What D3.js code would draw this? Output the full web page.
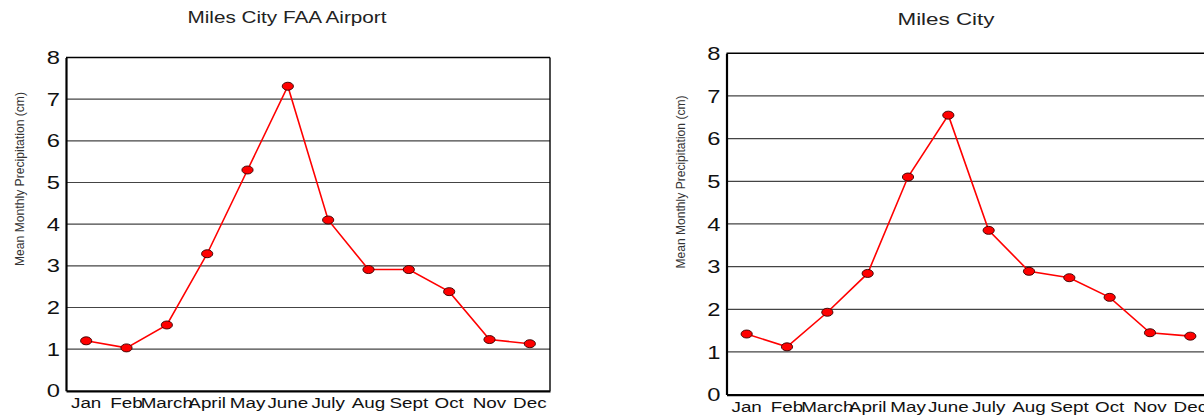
<!DOCTYPE html>
<html>
<head>
<meta charset="utf-8">
<script src="https://cdn.jsdelivr.net/npm/d3@7"></script>
<style>
  html, body { margin: 0; padding: 0; background: #fff; }
  svg { display: block; font-family: "Liberation Sans", Arial, sans-serif; }
</style>
</head>
<body>
<svg id="chart" width="1204" height="415"></svg>
<script>
const months = ["Jan", "Feb", "March", "April", "May", "June", "July", "Aug", "Sept", "Oct", "Nov", "Dec"];
const airportValues = [1.2, 1.03, 1.58, 3.29, 5.3, 7.31, 4.1, 2.91, 2.91, 2.38, 1.23, 1.13];
const cityValues = [1.42, 1.12, 1.93, 2.84, 5.1, 6.55, 3.85, 2.89, 2.74, 2.28, 1.45, 1.37];
const yTicks = [0, 1, 2, 3, 4, 5, 6, 7, 8];
const yAxisTitle = "Mean Monthly Precipitation (cm)";
const titles = ["Miles City FAA Airport", "Miles City"];

const svg = d3.select("#chart");

const panels = [
  { title: titles[0], values: airportValues, left: 66, right: 550, top: 57.5, bottom: 390.8,
    titleX: 287, titleY: 23, titleLen: 199, labelX: 24, labelY: 179, labelLen: 174 },
  { title: titles[1], values: cityValues, left: 726.5, right: 1210.5, top: 53.3, bottom: 394.6,
    titleX: 946, titleY: 25, titleLen: 97, labelX: 685, labelY: 182, labelLen: 173 }
];

panels.forEach(p => {
  const g = svg.append("g");
  const x = d3.scaleBand().domain(months).range([p.left, p.right]).paddingInner(0).paddingOuter(0);
  const y = d3.scaleLinear().domain([0, 8]).range([p.bottom, p.top]);

  // gridlines
  g.append("g").selectAll("line").data(yTicks.filter(d => d > 0 && d < 8)).join("line")
    .attr("x1", p.left).attr("x2", p.right)
    .attr("y1", d => y(d)).attr("y2", d => y(d))
    .attr("stroke", "#444").attr("stroke-width", 1.2);

  // frame: top & right thin
  g.append("line").attr("x1", p.left).attr("x2", p.right).attr("y1", p.top).attr("y2", p.top)
    .attr("stroke", "#000").attr("stroke-width", 1.4);
  g.append("line").attr("x1", p.right).attr("x2", p.right).attr("y1", p.top).attr("y2", p.bottom)
    .attr("stroke", "#000").attr("stroke-width", 1.4);

  // y axis
  const yAxis = d3.axisLeft(y).tickValues(yTicks).tickSize(0).tickPadding(6).tickFormat(d3.format("d"));
  const ya = g.append("g").attr("transform", `translate(${p.left},0)`).call(yAxis);
  ya.select(".domain").attr("stroke", "#000").attr("stroke-width", 2.2);
  ya.selectAll("text").attr("font-size", 19).attr("fill", "#111")
    .attr("font-family", "'Liberation Sans', Arial, sans-serif")
    .each(function() {
      const t = d3.select(this);
      t.attr("transform", `translate(${-6},0) scale(1.25,1)`).attr("x", 0);
    });

  // x axis
  const xAxis = d3.axisBottom(x).tickSize(0).tickPadding(10);
  const xa = g.append("g").attr("transform", `translate(0,${p.bottom})`).call(xAxis);
  xa.select(".domain").attr("stroke", "#000").attr("stroke-width", 2.2);
  xa.selectAll(".tick text").attr("font-size", 14.5).attr("fill", "#111")
    .attr("font-family", "'Liberation Sans', Arial, sans-serif")
    .attr("transform", "scale(1.3,1)").attr("y", 0).attr("dy", "1.2em");

  // line
  const line = d3.line().x((d, i) => x(months[i]) + x.bandwidth() / 2).y(d => y(d));
  g.append("path").datum(p.values).attr("d", line)
    .attr("fill", "none").attr("stroke", "#ff0000").attr("stroke-width", 1.6);

  g.append("g").selectAll("ellipse").data(p.values).join("ellipse")
    .attr("cx", (d, i) => x(months[i]) + x.bandwidth() / 2).attr("cy", d => y(d))
    .attr("rx", 5.6).attr("ry", 4)
    .attr("fill", "#ff0000").attr("stroke", "#330000").attr("stroke-width", 0.9);

  // title
  g.append("text").attr("x", p.titleX).attr("y", p.titleY).attr("text-anchor", "middle")
    .attr("font-size", 16.5).attr("fill", "#222")
    .attr("textLength", p.titleLen).attr("lengthAdjust", "spacingAndGlyphs")
    .text(p.title);

  // y title
  g.append("text").attr("transform", `translate(${p.labelX},${p.labelY}) rotate(-90)`)
    .attr("text-anchor", "middle").attr("font-size", 12).attr("fill", "#333")
    .attr("textLength", p.labelLen).attr("lengthAdjust", "spacingAndGlyphs")
    .text(yAxisTitle);
});
</script>
</body>
</html>
